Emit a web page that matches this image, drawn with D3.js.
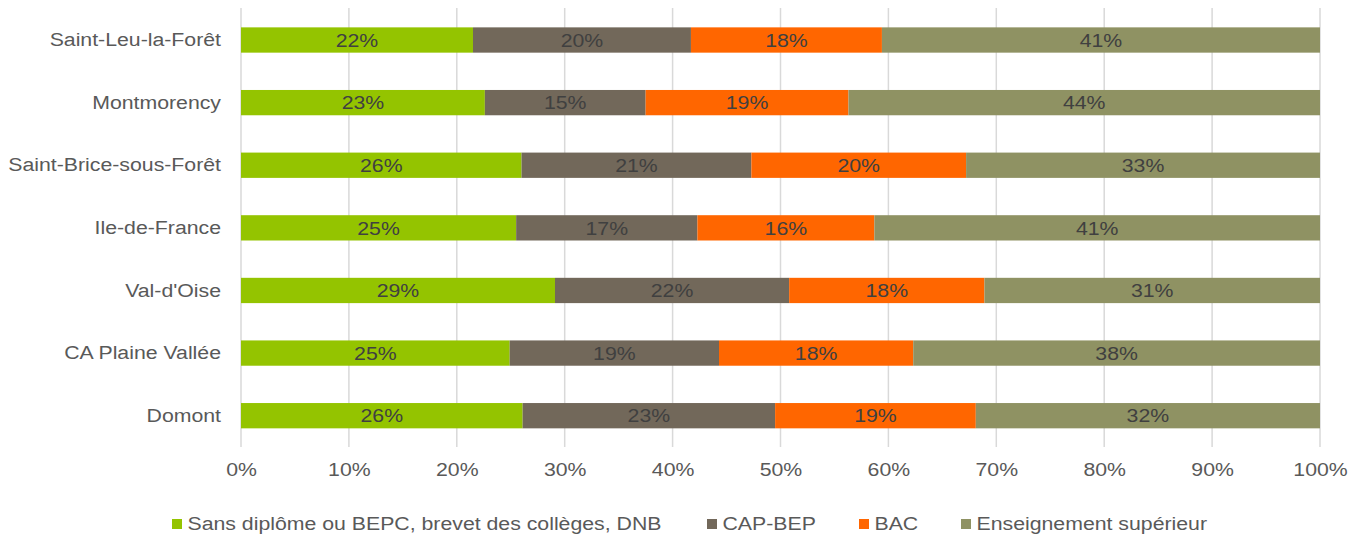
<!DOCTYPE html>
<html><head><meta charset="utf-8">
<script src="https://cdn.jsdelivr.net/npm/d3@7"></script>
<style>body{margin:0;background:#fff;}svg{display:block;font-family:"Liberation Sans",Arial,sans-serif;}</style>
</head><body><svg id="c" width="1350" height="534"></svg>
<script>
const categories = ["Saint-Leu-la-Forêt","Montmorency","Saint-Brice-sous-Forêt","Ile-de-France","Val-d'Oise","CA Plaine Vallée","Domont"];
const seriesNames = ["Sans diplôme ou BEPC, brevet des collèges, DNB","CAP-BEP","BAC","Enseignement supérieur"];
const sansDiplome = [21.5,22.6,26.0,25.5,29.1,24.9,26.1];
const capBep      = [20.2,14.9,21.3,16.8,21.7,19.4,23.4];
const bac         = [17.7,18.8,19.9,16.4,18.1,18.0,18.6];
const superieur   = [40.6,43.7,32.8,41.3,31.1,37.7,31.9];
const labelsText = [
  ["22%","20%","18%","41%"],
  ["23%","15%","19%","44%"],
  ["26%","21%","20%","33%"],
  ["25%","17%","16%","41%"],
  ["29%","22%","18%","31%"],
  ["25%","19%","18%","38%"],
  ["26%","23%","19%","32%"]
];
const tickValues = [0,10,20,30,40,50,60,70,80,90,100];
const colors = ["#94c400","#72685a","#ff6600","#8f9263"];

const FS = 19, SX = 1.12;
const series = [sansDiplome, capBep, bac, superieur];
const svg = d3.select("#c");
const x = d3.scaleLinear().domain([0,100]).range([241,1320]);
const y = d3.scaleBand().domain(categories).range([8.7,447]).paddingInner(0.596).paddingOuter(0.298);

function stretch(sel){
  sel.each(function(){
    const t = d3.select(this);
    const tx = +t.attr("x")||0, ty = +t.attr("y")||0;
    t.attr("x",0).attr("y",0).attr("transform",`translate(${tx},${ty}) scale(${SX},1)`);
  });
}

// gridlines
svg.append("g").selectAll("line").data(tickValues).join("line")
  .attr("x1",d=>x(d)).attr("x2",d=>x(d)).attr("y1",8).attr("y2",447)
  .attr("stroke","#d9d9d9").attr("stroke-width",1.5);

// stacked data
const rows = categories.map((c,i)=>{ let acc=0; return series.map((s,k)=>{ const v=s[i]; const r={cat:c,k,x0:acc,x1:acc+v,label:labelsText[i][k]}; acc+=v; return r;}); }).flat();

svg.append("g").selectAll("rect").data(rows).join("rect")
  .attr("x",d=>x(d.x0)).attr("width",d=>x(d.x1)-x(d.x0))
  .attr("y",d=>y(d.cat)).attr("height",y.bandwidth())
  .attr("fill",d=>colors[d.k]);

svg.append("g").selectAll("text").data(rows).join("text")
  .attr("x",d=>(x(d.x0)+x(d.x1))/2).attr("y",d=>y(d.cat)+y.bandwidth()/2)
  .attr("dy","0.35em").attr("text-anchor","middle")
  .attr("font-size",FS).attr("fill","#404040").text(d=>d.label).call(stretch);

// y axis labels
const ya = svg.append("g").attr("transform","translate(241,0)").call(d3.axisLeft(y).tickSize(0).tickPadding(20));
ya.select(".domain").remove();
ya.selectAll("text").attr("font-size",FS).attr("fill","#595959").attr("font-family","Liberation Sans, Arial, sans-serif").call(stretch);

// x axis
const xa = svg.append("g").attr("transform","translate(0,447)").call(d3.axisBottom(x).tickValues(tickValues).tickFormat(d=>d+"%").tickSize(0).tickPadding(16));
xa.select(".domain").remove();
xa.selectAll("text").attr("font-size",FS).attr("fill","#595959").attr("font-family","Liberation Sans, Arial, sans-serif").call(stretch);

// legend
const legX = [172,707,859,961];
const leg = svg.append("g");
seriesNames.forEach((n,k)=>{
  leg.append("rect").attr("x",legX[k]).attr("y",519).attr("width",10).attr("height",10).attr("fill",colors[k]);
  leg.append("text").attr("x",legX[k]+15.5).attr("y",523.5).attr("dy","0.35em").attr("font-size",FS).attr("fill","#595959").text(n).call(stretch);
});
</script></body></html>
